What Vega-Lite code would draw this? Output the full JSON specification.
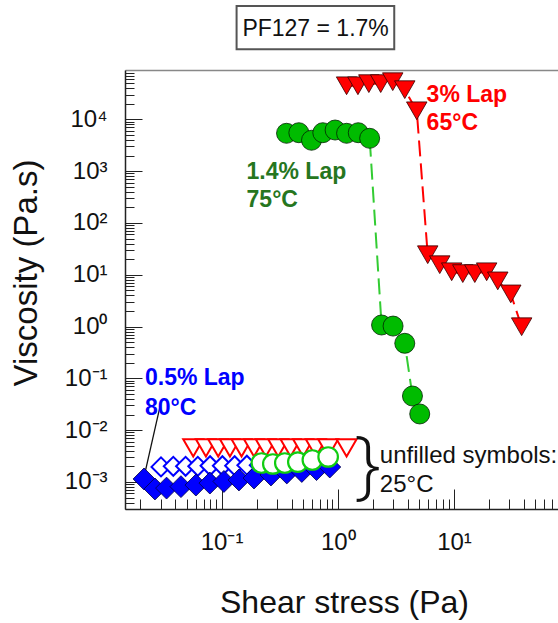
{
  "$schema": "https://vega.github.io/schema/vega-lite/v6.json",
  "width": 433,
  "height": 439,
  "autosize": {"type": "none"},
  "padding": {"left": 125, "top": 70, "right": 0, "bottom": 114},
  "background": "white",
  "config": {
    "font": "Liberation Sans",
    "view": {"stroke": null},
    "axis": {"grid": false, "labelFont": "Liberation Sans", "titleFont": "Liberation Sans", "labelColor": "#111", "titleColor": "#111", "titleFontWeight": "normal", "tickColor": "#222", "domainColor": "#222", "labelFlush": false, "labelOverlap": false}
  },
  "datasets": {
    "box": [{"x": 0.1346, "x2": 3.06, "y": 1535000, "y2": 224200}],
    "boxText": [{"text": "PF127 = 1.7%", "x": 0.644, "y": 405000}],
    "red65": [
      {"x": 1.19, "y": 44400}, {"x": 1.49, "y": 44400}, {"x": 1.85, "y": 48800}, {"x": 2.34, "y": 48800},
      {"x": 2.97, "y": 53200}, {"x": 3.77, "y": 37300}, {"x": 4.78, "y": 14600}, {"x": 5.94, "y": 24.3},
      {"x": 7.54, "y": 15.6}, {"x": 9.55, "y": 11.4}, {"x": 11.9, "y": 10.5}, {"x": 15.1, "y": 10.5},
      {"x": 19.1, "y": 11.4}, {"x": 23.8, "y": 7.6}, {"x": 30.8, "y": 4.26}, {"x": 38.2, "y": 0.99}
    ],
    "green75": [
      {"x": 0.362, "y": 5370}, {"x": 0.462, "y": 5510}, {"x": 0.594, "y": 3940}, {"x": 0.743, "y": 5510},
      {"x": 0.948, "y": 6210}, {"x": 1.19, "y": 5370}, {"x": 1.5, "y": 5510}, {"x": 1.88, "y": 4300},
      {"x": 2.38, "y": 1.07}, {"x": 2.99, "y": 1.02}, {"x": 3.77, "y": 0.474}, {"x": 4.39, "y": 0.0455},
      {"x": 5.07, "y": 0.0205}
    ],
    "red25": [
      {"x": 0.057, "y": 0.00455}, {"x": 0.0733, "y": 0.00455}, {"x": 0.0935, "y": 0.00455}, {"x": 0.118, "y": 0.00455},
      {"x": 0.1485, "y": 0.00455}, {"x": 0.19, "y": 0.00455}, {"x": 0.24, "y": 0.00455}, {"x": 0.307, "y": 0.00455},
      {"x": 0.392, "y": 0.00455}, {"x": 0.503, "y": 0.00455}, {"x": 0.647, "y": 0.00455}, {"x": 0.826, "y": 0.00455},
      {"x": 1.19, "y": 0.00455}
    ],
    "blue25": [
      {"x": 0.0301, "y": 0.00195}, {"x": 0.0384, "y": 0.002}, {"x": 0.049, "y": 0.002}, {"x": 0.0624, "y": 0.002},
      {"x": 0.0796, "y": 0.00205}, {"x": 0.1016, "y": 0.00205}, {"x": 0.1296, "y": 0.00205}, {"x": 0.165, "y": 0.0021},
      {"x": 0.211, "y": 0.0021}, {"x": 0.269, "y": 0.0021}, {"x": 0.343, "y": 0.00215}, {"x": 0.438, "y": 0.00215},
      {"x": 0.559, "y": 0.0022}, {"x": 0.713, "y": 0.0023}
    ],
    "blue80": [
      {"x": 0.0215, "y": 0.00114}, {"x": 0.0267, "y": 0.00073}, {"x": 0.0336, "y": 0.00076}, {"x": 0.0447, "y": 0.00081},
      {"x": 0.0601, "y": 0.00087}, {"x": 0.0793, "y": 0.00095}, {"x": 0.1047, "y": 0.00102}, {"x": 0.141, "y": 0.00109},
      {"x": 0.19, "y": 0.00119}, {"x": 0.266, "y": 0.00136}, {"x": 0.364, "y": 0.00149}, {"x": 0.49, "y": 0.00159},
      {"x": 0.656, "y": 0.00173}, {"x": 0.853, "y": 0.00194}
    ],
    "green25": [
      {"x": 0.22, "y": 0.00232}, {"x": 0.276, "y": 0.00222}, {"x": 0.35, "y": 0.00232}, {"x": 0.453, "y": 0.00242},
      {"x": 0.604, "y": 0.00265}, {"x": 0.826, "y": 0.00303}
    ],
    "pointer": [{"x": 0.0295, "y": 0.0283, "x2": 0.0209, "y2": 0.00094}],
    "redLab": [{"text": "3% Lap", "x": 5.81, "y": 21900}, {"text": "65°C", "x": 5.81, "y": 6220}],
    "greenLab": [{"text": "1.4% Lap", "x": 0.164, "y": 705}, {"text": "75°C", "x": 0.164, "y": 206}],
    "blueLab": [{"text": "0.5% Lap", "x": 0.0219, "y": 0.0748}, {"text": "80°C", "x": 0.0219, "y": 0.0197}],
    "blackLab": [{"text": "unfilled symbols:", "x": 2.3, "y": 0.00231}, {"text": "25°C", "x": 2.3, "y": 0.000625}],
    "brace": [{"text": "}", "x": 1.38, "y": 0.000689}]
  },
  "encoding": {
    "x": {"field": "x", "type": "quantitative", "scale": {"type": "log", "domain": [0.01475, 78.5], "nice": false}, "axis": null},
    "y": {"field": "y", "type": "quantitative", "scale": {"type": "log", "domain": [0.0003, 89500], "nice": false}, "axis": null}
  },
  "resolve": {"axis": {"x": "independent", "y": "independent"}},
  "layer": [
    {
      "data": {"name": "box"},
      "mark": {"type": "rect", "fill": "white", "stroke": "#555", "strokeWidth": 2, "clip": false},
      "encoding": {
        "x": {"field": "x", "type": "quantitative", "scale": {"type": "log", "domain": [0.01475, 78.5], "nice": false},
              "axis": {"orient": "top", "ticks": false, "labels": false, "domain": true, "domainColor": "#888", "domainWidth": 1.5, "title": null}},
        "x2": {"field": "x2"},
        "y": {"field": "y", "type": "quantitative", "scale": {"type": "log", "domain": [0.0003, 89500], "nice": false}, "axis": null},
        "y2": {"field": "y2"}
      }
    },
    {
      "data": {"name": "boxText"},
      "mark": {"type": "text", "fontSize": 23, "color": "#111", "align": "center", "baseline": "alphabetic"},
      "encoding": {"text": {"field": "text"}}
    },
    {
      "data": {"name": "red65"},
      "mark": {"type": "line", "color": "#ff0000", "strokeWidth": 2, "strokeDash": [16, 7]},
      "encoding": {
        "x": {"field": "x", "type": "quantitative", "scale": {"type": "log", "domain": [0.01475, 78.5], "nice": false},
              "axis": {"orient": "bottom", "values": [0.1, 1, 10], "labelExpr": "['10⁻¹','10⁰','10¹'][round(log(datum.value)/LN10)+1]",
                       "tickSize": -20, "tickWidth": 1, "labelPadding": 41, "labelFontSize": 24, "domainWidth": 1.5,
                       "title": "Shear stress (Pa)", "titleFontSize": 32, "titleY": 103, "titleX": 219, "titleBaseline": "alphabetic"}},
        "y": {"field": "y", "type": "quantitative", "scale": {"type": "log", "domain": [0.0003, 89500], "nice": false},
              "axis": {"orient": "left", "values": [0.001, 0.01, 0.1, 1, 10, 100, 1000, 10000],
                       "labelExpr": "['10⁻³','10⁻²','10⁻¹','10⁰','10¹','10²','10³','10⁴'][round(log(datum.value)/LN10)+3]",
                       "tickSize": -17, "tickWidth": 1, "labelPadding": 35, "labelFontSize": 24, "domainWidth": 1.5,
                       "title": "Viscosity (Pa.s)", "titleFontSize": 33, "titleX": -89, "titleY": 202.5, "titleBaseline": "alphabetic"}}
      }
    },
    {
      "data": {"name": "green75"},
      "mark": {"type": "line", "color": "#33cc33", "strokeWidth": 2, "strokeDash": [16, 7]},
      "encoding": {
        "x": {"field": "x", "type": "quantitative", "scale": {"type": "log", "domain": [0.01475, 78.5], "nice": false},
              "axis": {"orient": "bottom", "values": [0.02, 0.03, 0.04, 0.05, 0.06, 0.07, 0.08, 0.09, 0.2, 0.3, 0.4, 0.5, 0.6, 0.7, 0.8, 0.9, 2, 3, 4, 5, 6, 7, 8, 9, 20, 30, 40, 50, 60, 70],
                       "labels": false, "domain": false, "tickSize": -10, "tickWidth": 1, "title": null}},
        "y": {"field": "y", "type": "quantitative", "scale": {"type": "log", "domain": [0.0003, 89500], "nice": false},
              "axis": {"orient": "left", "values": [0.0003, 0.0004, 0.0005, 0.0006, 0.0007, 0.0008, 0.0009, 0.002, 0.003, 0.004, 0.005, 0.006, 0.007, 0.008, 0.009, 0.02, 0.03, 0.04, 0.05, 0.06, 0.07, 0.08, 0.09, 0.2, 0.3, 0.4, 0.5, 0.6, 0.7, 0.8, 0.9, 2, 3, 4, 5, 6, 7, 8, 9, 20, 30, 40, 50, 60, 70, 80, 90, 200, 300, 400, 500, 600, 700, 800, 900, 2000, 3000, 4000, 5000, 6000, 7000, 8000, 9000, 20000, 30000, 40000, 50000, 60000, 70000, 80000],
                       "labels": false, "domain": false, "tickSize": -9, "tickWidth": 1, "title": null}}
      }
    },
    {
      "data": {"name": "pointer"},
      "mark": {"type": "rule", "color": "#111", "strokeWidth": 1.3},
      "encoding": {"x2": {"field": "x2"}, "y2": {"field": "y2"}}
    },
    {
      "data": {"name": "red25"},
      "mark": {"type": "point", "shape": "triangle-down", "filled": false, "fill": "white", "fillOpacity": 1, "stroke": "#ff0000", "strokeWidth": 2, "size": 400, "opacity": 1}
    },
    {
      "data": {"name": "blue25"},
      "mark": {"type": "point", "shape": "diamond", "filled": false, "fill": "white", "fillOpacity": 1, "stroke": "#0000ff", "strokeWidth": 2, "size": 360, "opacity": 1}
    },
    {
      "data": {"name": "blue80"},
      "mark": {"type": "point", "shape": "diamond", "filled": true, "fill": "#0000ff", "stroke": "#000044", "strokeWidth": 0.8, "size": 480, "opacity": 1}
    },
    {
      "data": {"name": "green25"},
      "mark": {"type": "point", "shape": "circle", "filled": false, "fill": "white", "fillOpacity": 1, "stroke": "#11cc11", "strokeWidth": 2.2, "size": 380, "opacity": 1}
    },
    {
      "data": {"name": "red65"},
      "mark": {"type": "point", "shape": "triangle-down", "filled": true, "fill": "#ff0000", "stroke": "#330000", "strokeWidth": 0.8, "size": 420, "opacity": 1}
    },
    {
      "data": {"name": "green75"},
      "mark": {"type": "point", "shape": "circle", "filled": true, "fill": "#00bb00", "stroke": "#002200", "strokeWidth": 0.8, "size": 400, "opacity": 1}
    },
    {
      "data": {"name": "redLab"},
      "mark": {"type": "text", "fontSize": 23, "fontWeight": "bold", "color": "#ff0000", "align": "left", "baseline": "alphabetic"},
      "encoding": {"text": {"field": "text"}}
    },
    {
      "data": {"name": "greenLab"},
      "mark": {"type": "text", "fontSize": 23, "fontWeight": "bold", "color": "#26761e", "align": "left", "baseline": "alphabetic"},
      "encoding": {"text": {"field": "text"}}
    },
    {
      "data": {"name": "blueLab"},
      "mark": {"type": "text", "fontSize": 23, "fontWeight": "bold", "color": "#0000ff", "align": "left", "baseline": "alphabetic"},
      "encoding": {"text": {"field": "text"}}
    },
    {
      "data": {"name": "blackLab"},
      "mark": {"type": "text", "fontSize": 24, "color": "#111", "align": "left", "baseline": "alphabetic"},
      "encoding": {"text": {"field": "text"}}
    },
    {
      "data": {"name": "brace"},
      "mark": {"type": "text", "fontSize": 76, "font": "Open Sans", "fontWeight": 300, "color": "#111", "align": "left", "baseline": "alphabetic"},
      "encoding": {"text": {"field": "text"}}
    }
  ]
}
